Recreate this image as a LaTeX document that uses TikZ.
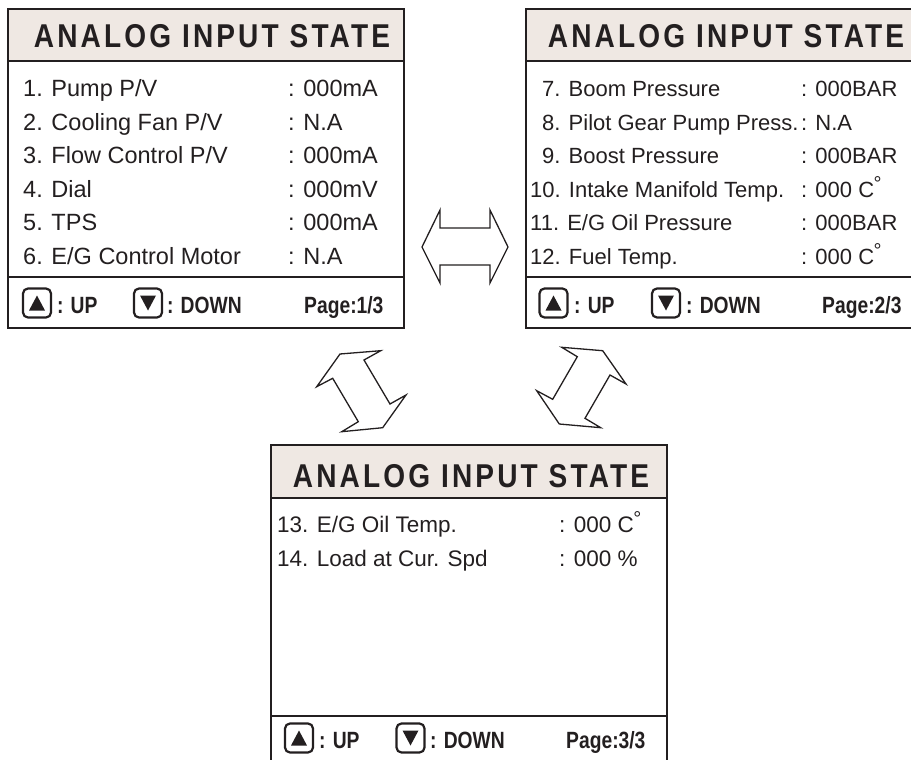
\documentclass[tikz,border=0pt]{standalone}
\usepackage{fontspec}
\setmainfont{Liberation Sans}
\newfontfamily\titlefont[LetterSpace=9.5,FakeStretch=0.85]{Liberation Sans}
\newfontfamily\footfont[FakeStretch=0.82]{Liberation Sans}
\definecolor{ink}{HTML}{231F20}
\definecolor{hdrfill}{HTML}{EFE8E3}
\newcommand\degsym{\raisebox{6.5pt}{\fontsize{20}{20}\selectfont\kern-0.5pt °}}
\newcommand\btnup[3]{%
  \node[btn] (#1) at (#2,#3) {};
  \fill[ink] ([shift={(-8,7.5)}]#1.center) -- ([shift={(8,7.5)}]#1.center) -- ([shift={(0,-7.5)}]#1.center) -- cycle;}
\newcommand\btndown[3]{%
  \node[btn] (#1) at (#2,#3) {};
  \fill[ink] ([shift={(-8,-7.5)}]#1.center) -- ([shift={(8,-7.5)}]#1.center) -- ([shift={(0,7.5)}]#1.center) -- cycle;}
\tikzset{
  frame/.style={draw=ink, line width=1.5pt},
  ttl/.style={anchor=base, inner sep=0pt, text=ink, font=\titlefont\bfseries\fontsize{33}{33}\selectfont},
  row/.style={anchor=base west, inner sep=0pt, text=ink, font=\fontsize{22.5}{22.5}\selectfont},
  rowa/.style={row, font=\fontsize{23.5}{23.5}\selectfont},
  rowb/.style={row, font=\fontsize{22}{22}\selectfont},
  ft/.style={anchor=base west, inner sep=0pt, text=ink, font=\footfont\bfseries\fontsize{23.5}{23.5}\selectfont},
  btn/.style={draw=ink, line width=2.2pt, rounded corners=5pt, minimum width=28pt, minimum height=29pt, inner sep=0pt},
  dbl/.style={draw=ink, line width=1.3pt, fill=white, line join=miter},
}
\begin{document}
\begin{tikzpicture}[x=1pt,y=-1pt]
\useasboundingbox (0,0) rectangle (911,760);
\clip (0,0) rectangle (911,760);
% ---------- panel 1 ----------
\fill[hdrfill] (8,9) rectangle (404,61);
\draw[frame] (8,9) rectangle (404,328);
\draw[frame] (8,61) -- (404,61);
\draw[frame] (8,277) -- (404,277);
\node[ttl] (t1) at (212,48) {ANALOG INPUT STATE};
\node[rowa] (r1) at (23,96.5) {1. Pump P/V};
\node[rowa] (r2) at (23,130) {2. Cooling Fan P/V};
\node[rowa] (r3) at (23,163.5) {3. Flow Control P/V};
\node[rowa] (r4) at (23,197) {4. Dial};
\node[rowa] (r5) at (23,230.5) {5. TPS};
\node[rowa] (r6) at (23,264) {6. E/G Control Motor};
\node[rowa] (v1) at (288,96.5) {: 000mA};
\node[rowa] (v2) at (288,130) {: N.A};
\node[rowa] (v3) at (288,163.5) {: 000mA};
\node[rowa] (v4) at (288,197) {: 000mV};
\node[rowa] (v5) at (288,230.5) {: 000mA};
\node[rowa] (v6) at (288,264) {: N.A};
\btnup{u1}{37}{303}
\node[ft] (fu1) at (57,313) {: UP};
\btndown{d1}{148}{303}
\node[ft] (fd1) at (167,313) {: DOWN};
\node[ft] (pg1) at (304,313) {Page:1/3};
% ---------- panel 2 ----------
\fill[hdrfill] (526,9) rectangle (920,61);
\draw[frame] (920,9) -- (526,9) -- (526,328) -- (920,328);
\draw[frame] (526,61) -- (920,61);
\draw[frame] (526,277) -- (920,277);
\node[ttl] (t2) at (726,48) {ANALOG INPUT STATE};
\node[rowb] (r7) at (542,96.5) {7. Boom Pressure};
\node[rowb] (r8) at (542,130) {8. Pilot Gear Pump Press.};
\node[rowb] (r9) at (542,163.5) {9. Boost Pressure};
\node[rowb] (r10) at (530,197) {10. Intake Manifold Temp.};
\node[rowb] (r11) at (530,230.5) {11. E/G Oil Pressure};
\node[rowb] (r12) at (530,264) {12. Fuel Temp.};
\node[rowb] (v7) at (801,96.5) {: 000BAR};
\node[rowb] (v8) at (801,130) {: N.A};
\node[rowb] (v9) at (801,163.5) {: 000BAR};
\node[rowb] (v10) at (801,197) {: 000 C\degsym};
\node[rowb] (v11) at (801,230.5) {: 000BAR};
\node[rowb] (v12) at (801,264) {: 000 C\degsym};
\btnup{u2}{553.5}{303}
\node[ft] (fu2) at (574,313) {: UP};
\btndown{d2}{666}{303}
\node[ft] (fd2) at (686,313) {: DOWN};
\node[ft] (pg2) at (822,313) {Page:2/3};
% ---------- panel 3 ----------
\fill[hdrfill] (271,445) rectangle (667,498);
\draw[frame] (271,770) -- (271,445) -- (667,445) -- (667,770);
\draw[frame] (271,498) -- (667,498);
\draw[frame] (271,716) -- (667,716);
\node[ttl] (t3) at (471,487) {ANALOG INPUT STATE};
\node[row] (r13) at (277,532) {13. E/G Oil Temp.};
\node[row] (r14) at (277,566) {14. Load at Cur. Spd};
\node[row] (v13) at (559,532) {: 000 C\degsym};
\node[row] (v14) at (559,566) {: 000 \%};
\btnup{u3}{299}{738}
\node[ft] (fu3) at (319,748) {: UP};
\btndown{d3}{410.5}{738}
\node[ft] (fd3) at (430,748) {: DOWN};
\node[ft] (pg3) at (566,748) {Page:3/3};
% ---------- double arrows ----------
\draw[dbl] (422,247) -- (440,210) -- (440,228) -- (490,228) -- (490,210) -- (508,247)
  -- (490,283) -- (490,265) -- (440,265) -- (440,283) -- cycle;
\draw[dbl] (340,354) -- (380.7,350.7) -- (364,360) -- (390,404) -- (406,395)
  -- (382.7,427.7) -- (341.7,431.7) -- (358.3,421.7) -- (332.7,378.3) -- (316.7,386.7) -- cycle;
\draw[dbl] (561.7,347.3) -- (602.7,350.7) -- (626,384) -- (610,375) -- (585,418.3)
  -- (600.7,427.7) -- (559.3,424) -- (536.7,390.7) -- (552.7,399.3) -- (577.3,356.7) -- cycle;
\end{tikzpicture}
\end{document}
